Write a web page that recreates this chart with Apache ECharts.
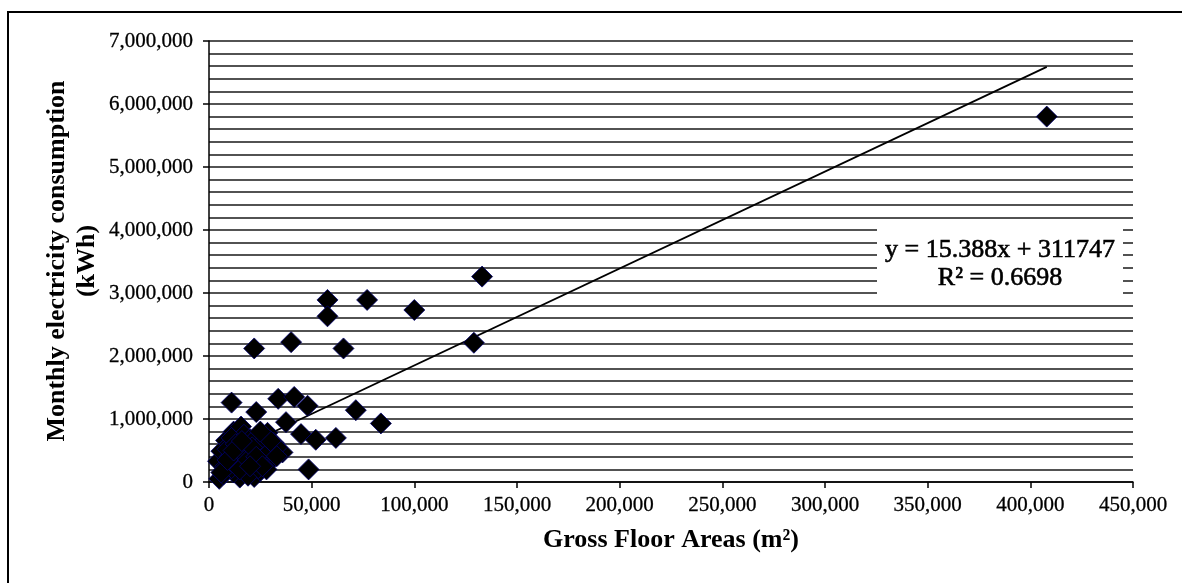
<!DOCTYPE html>
<html>
<head>
<meta charset="utf-8">
<script src="https://cdn.jsdelivr.net/npm/echarts@6/dist/echarts.min.js"></script>
<style>html,body{margin:0;padding:0;background:#fff;}#c{width:1182px;height:583px;}</style>
</head>
<body>
<div id="c"></div>
<script>
// Gross floor area (m2) and monthly electricity consumption (kWh)
const areaX = [408000,133000,129000,100000,77000,57700,57700,65500,40000,22000,
  11000,23000,33700,41500,48000,71500,83700,44800,52000,61800,
  48500,37500,35800,5000,15000,22000,4400,6000,8300,12000,
  15600,28500,31600,8000,10000,12000,14000,16000,18000,18000,
  20000,22000,24000,25000,27000,29000,10000,7000,13000,17000,
  20000,23000,26000,30000,33000,19000,11000,24000,33000,28000,
  14000,9000,6000,9000,11000,13000,15000,17000,19000,21000,
  23000,26000,30000,12000,16000,20000,25000];
const kwhY = [5800000,3260000,2210000,2730000,2890000,2890000,2630000,2120000,2220000,2120000,
  1260000,1110000,1320000,1350000,1210000,1140000,930000,760000,670000,700000,
  200000,950000,470000,50000,70000,80000,330000,490000,660000,800000,
  880000,780000,620000,250000,400000,150000,550000,300000,620000,200000,
  450000,300000,550000,180000,400000,300000,600000,120000,350000,750000,
  680000,700000,620000,500000,550000,100000,220000,220000,410000,200000,
  450000,520000,150000,350000,700000,600000,200000,450000,350000,550000,
  400000,250000,650000,500000,650000,250000,800000];
// Linear trendline endpoints (y = 15.388x + 311747)
const trendX = [5000, 408000];
const trendY = [389000, 6590000];
const xTicks = {min: 0, max: 450000, step: 50000};
const yTicks = {min: 0, max: 7000000, step: 1000000, minorSplit: 5};
const eqLine1 = 'y = 15.388x + 311747';
const eqLine2 = 'R² = 0.6698';
const xTitle = 'Gross Floor Areas (m²)';
const yTitle = 'Monthly electricity consumption\n(kWh)';

function fmt(v){ return String(v).replace(/\B(?=(\d{3})+(?!\d))/g, ','); }
const FONT = 'Liberation Serif';

const chart = echarts.init(document.getElementById('c'), null, {renderer:'canvas'});
chart.setOption({
  animation: false,
  backgroundColor: '#fff',
  grid: {left: 209, right: 49, top: 41, bottom: 101},
  xAxis: {
    type: 'value', min: xTicks.min, max: xTicks.max, interval: xTicks.step,
    axisLine: {show: true, lineStyle: {color: '#000', width: 1.5}},
    axisTick: {show: true, length: 6, lineStyle: {color: '#000', width: 1.5}},
    axisLabel: {margin: 13, color: '#000', fontFamily: FONT, fontSize: 21, formatter: fmt,
                textBorderColor: '#000', textBorderWidth: 0.3},
    splitLine: {show: false}
  },
  yAxis: {
    type: 'value', min: yTicks.min, max: yTicks.max, interval: yTicks.step,
    axisLine: {show: true, lineStyle: {color: '#000', width: 1.5}},
    axisTick: {show: true, length: 6, lineStyle: {color: '#000', width: 1.5}},
    axisLabel: {margin: 16, color: '#000', fontFamily: FONT, fontSize: 21, formatter: fmt,
                textBorderColor: '#000', textBorderWidth: 0.3},
    splitLine: {show: true, lineStyle: {color: '#1a1a1a', width: 1.5}},
    minorTick: {show: false, splitNumber: yTicks.minorSplit},
    minorSplitLine: {show: true, lineStyle: {color: '#1a1a1a', width: 1.5}}
  },
  series: [
    {
      type: 'line', z: 2, showSymbol: false, symbol: 'none',
      data: trendX.map((x, i) => [x, trendY[i]]),
      lineStyle: {color: '#000', width: 1.8},
      silent: true
    },
    {
      type: 'scatter', z: 3, symbol: 'diamond', symbolSize: 21,
      data: areaX.map((x, i) => [x, kwhY[i]]),
      itemStyle: {color: '#000', borderColor: '#000070', borderWidth: 0.8, opacity: 1}
    }
  ],
  graphic: [
    {type: 'rect', z: 100, silent: true,
     shape: {x: 8, y: 12, width: 1200, height: 620},
     style: {fill: 'none', stroke: '#000', lineWidth: 2}},
    {type: 'rect', z: 50, silent: true,
     shape: {x: 877, y: 224, width: 246, height: 74},
     style: {fill: '#fff', stroke: 'none'}},
    {type: 'text', z: 51, x: 1000, y: 250, silent: true,
     style: {text: eqLine1, fill: '#000', stroke: '#000', lineWidth: 0.6, font: '26px "Liberation Serif"', textAlign: 'center', textVerticalAlign: 'middle'}},
    {type: 'text', z: 51, x: 1000, y: 278, silent: true,
     style: {text: eqLine2, fill: '#000', stroke: '#000', lineWidth: 0.6, font: '26px "Liberation Serif"', textAlign: 'center', textVerticalAlign: 'middle'}},
    {type: 'text', z: 51, x: 671, y: 540, silent: true,
     style: {text: xTitle, fill: '#000', font: 'bold 26px "Liberation Serif"', textAlign: 'center', textVerticalAlign: 'middle'}},
    {type: 'text', z: 51, x: 72, y: 261, rotation: Math.PI / 2, silent: true,
     style: {text: yTitle, fill: '#000', font: 'bold 26px "Liberation Serif"', textAlign: 'center', textVerticalAlign: 'middle', lineHeight: 30}}
  ]
});
</script>
</body>
</html>
